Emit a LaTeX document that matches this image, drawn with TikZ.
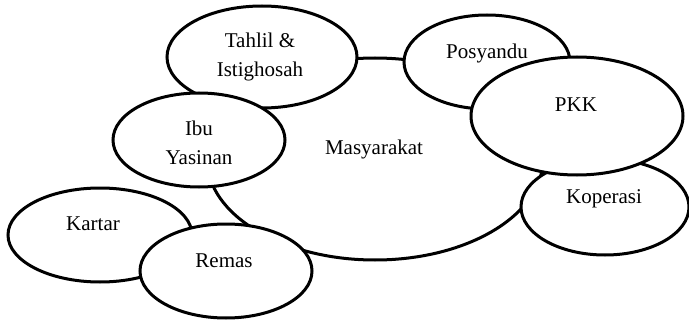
\documentclass[tikz,border=0pt]{standalone}
\usepackage{fontspec}
\setmainfont{Liberation Serif}
\usetikzlibrary{shapes.geometric}
\tikzset{
  bub/.style={draw=black, fill=white, line width=3pt, ellipse, inner sep=0pt},
  lbl/.style={font=\fontsize{21}{29}\selectfont, inner sep=0pt, align=center}
}
\begin{document}
\begin{tikzpicture}[x=1pt,y=-1pt]
\useasboundingbox (0,0) rectangle (689,321);
% ellipses in stacking order
\node[bub, minimum width=336pt, minimum height=202pt] (masy) at (375,159) {};
\node[bub, minimum width=190pt, minimum height=102pt] (tahlil) at (262,57) {};
\node[bub, minimum width=172pt, minimum height=94pt] (ibu) at (199,140) {};
\node[bub, minimum width=166pt, minimum height=94pt] (posy) at (487,62) {};
\node[bub, minimum width=168pt, minimum height=96pt] (kop) at (605,207) {};
\node[bub, minimum width=212pt, minimum height=118pt] (pkk) at (577,116) {};
\node[bub, minimum width=184pt, minimum height=94pt] (kartar) at (100,235) {};
\node[bub, minimum width=172pt, minimum height=94pt] (remas) at (226,271) {};
% labels
\node[lbl, anchor=base] (tmasy) at (374,154) {Masyarakat};
\node[lbl] (ttahlil) at (260,57) {Tahlil \&\\Istighosah};
\node[lbl] (tibu) at (199,143) {Ibu\\Yasinan};
\node[lbl, anchor=base] (tposy) at (487,59) {Posyandu};
\node[lbl, anchor=base] (tpkk) at (576,112) {PKK};
\node[lbl, anchor=base] (tkop) at (604,203) {Koperasi};
\node[lbl, anchor=base] (tkartar) at (93,230) {Kartar};
\node[lbl, anchor=base] (tremas) at (224,267) {Remas};
\end{tikzpicture}
\end{document}
